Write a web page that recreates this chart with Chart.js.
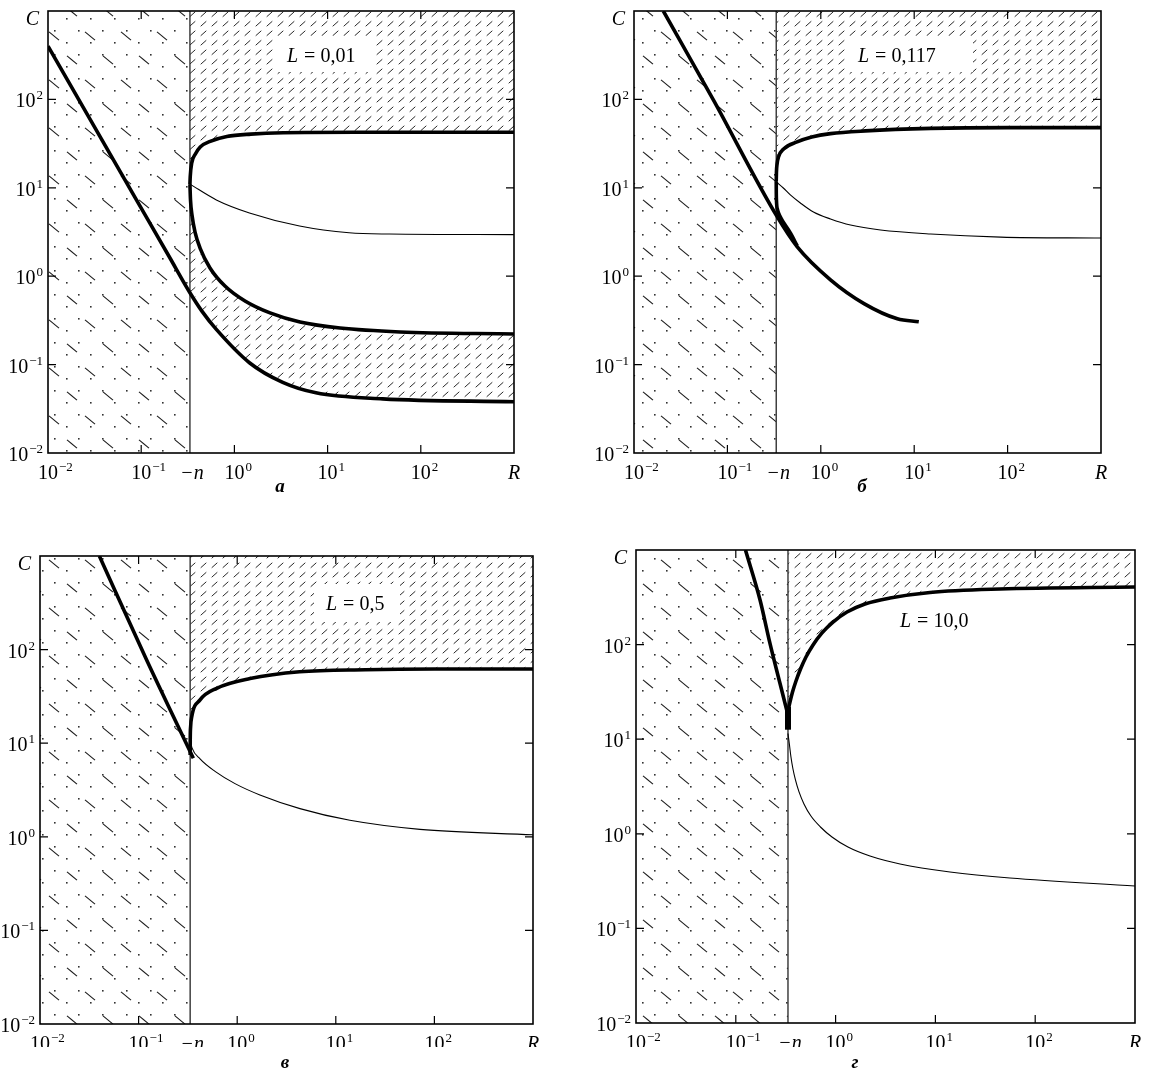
<!DOCTYPE html>
<html>
<head>
<meta charset="utf-8">
<title>C(R)</title>
<script src="https://cdn.jsdelivr.net/npm/chart.js@4/dist/chart.umd.min.js"></script>
<style>
  body { margin: 0; background: #fff; }
  #page { position: relative; width: 1151px; height: 1075px; overflow: hidden; background: #fff; }
  #page canvas { position: absolute; left: 0; top: 0; }
</style>
</head>
<body>
<div id="page">
  <canvas id="chartA" width="1151" height="1075"></canvas>
  <canvas id="chartB" width="1151" height="1075"></canvas>
  <canvas id="chartC" width="1151" height="1075"></canvas>
  <canvas id="chartD" width="1151" height="1075"></canvas>
</div>
<script>
const W = 1151, H = 1075;

// axes
const nR = 1 / 3;
const rMin = 0.01, rMax = 1000, cMin = 0.01, cMax = 1000;
const decadeValues = [0.01, 0.1, 1, 10, 100];
const decadeExps = ['\u22122', '\u22121', '0', '1', '2'];
const tickValues = [0.1, 1, 10, 100];
const lValues = ['0,01', '0,117', '0,5', '10,0'];
const panelLetters = ['а', 'б', 'в', 'г'];

// panel a, L = 0,01
const aLineR = [0.01, 0.087, 0.2, 0.3333, 0.45, 0.64, 1.45, 3.3, 7.5, 39, 1000];
const aLineC = [400, 7.6, 1.66, 0.65, 0.40, 0.25, 0.105, 0.063, 0.048, 0.041, 0.038];
const aUpR = [0.3333, 0.336, 0.348, 0.38, 0.43, 0.55, 0.83, 1.5, 3.35, 20, 1000];
const aUpC = [11, 13.5, 19, 24, 29, 33.5, 38, 40.5, 42, 42.5, 42.5];
const aLowR = [0.3333, 0.338, 0.351, 0.378, 0.428, 0.547, 0.792, 1.3, 2.41, 5.06, 13.6, 59.8, 1000];
const aLowC = [11, 7.3, 4.9, 3.16, 2.08, 1.24, 0.774, 0.524, 0.384, 0.303, 0.259, 0.234, 0.222];
const aThinR = [0.3333, 0.64, 1.45, 5, 17, 46, 1000];
const aThinC = [11, 7.3, 5.2, 3.7, 3.1, 3.0, 2.95];

// panel b, L = 0,117
const bLineR = [0.0206, 0.071, 0.3333, 0.557, 1.27, 2.9, 6.6, 11.2];
const bLineC = [1000, 98, 4.9, 2.16, 0.91, 0.49, 0.33, 0.305];
const bUpR = [0.3333, 0.335, 0.34, 0.353, 0.4, 0.557, 0.8, 1.27, 3, 15, 100, 1000];
const bUpC = [11.7, 15, 18.5, 22.5, 27.5, 33, 37.5, 41, 44, 47, 48, 48];
const bLowR = [0.3333, 0.3336, 0.335, 0.345, 0.368, 0.47, 0.56];
const bLowC = [11.7, 9.5, 7.3, 5.6, 4.7, 3.1, 2.2];
const bThinR = [0.3333, 0.397, 0.472, 0.604, 0.834, 1.27, 2.08, 4.36, 15, 84.5, 1000];
const bThinC = [11.7, 9.95, 8.3, 6.73, 5.32, 4.44, 3.79, 3.33, 3.0, 2.77, 2.7];

// panel c, L = 0,5
const cLineR = [0.04, 0.121, 0.359];
const cLineC = [1000, 77, 6.9];
const cUpR = [0.3333, 0.334, 0.337, 0.346, 0.42, 0.62, 1.35, 4.3, 20, 100, 1000];
const cUpC = [7.5, 11, 15, 19.2, 29, 38.6, 49, 58, 61, 62, 62];
const cThinR = [0.3333, 0.348, 0.42, 0.596, 0.95, 1.7, 4.33, 13.9, 71.4, 1000];
const cThinC = [10.8, 8.9, 6.8, 5.0, 3.7, 2.8, 2.0, 1.5, 1.2, 1.05];

// panel d, L = 10,0
const dLeftR = [0.125, 0.175, 0.22, 0.277, 0.3333];
const dLeftC = [1000, 296, 103, 39, 18];
const dCuspC = [12.6, 22];
const dUpR = [0.3333, 0.349, 0.370, 0.401, 0.445, 0.505, 0.594, 0.731, 0.942, 1.30, 1.97, 3.51, 8.83, 44.4, 1000];
const dUpC = [19.9, 24.7, 31.5, 41.2, 55.2, 73.9, 99.1, 133, 173, 221, 269, 311, 356, 387, 406];
const dThinR = [0.3333, 0.345, 0.357, 0.374, 0.396, 0.430, 0.482, 0.566, 0.705, 0.920, 1.33, 2.21, 4.42, 14.0, 55.8, 1000];
const dThinC = [11.5, 8.69, 6.49, 4.84, 3.71, 2.77, 2.07, 1.54, 1.18, 0.925, 0.724, 0.582, 0.480, 0.395, 0.341, 0.281];

const SERIF = '"Liberation Serif", "DejaVu Serif", serif';

// dotted grid with sparse "\" strokes, left of -n
function dotDashPattern(ctx) {
  const t = document.createElement('canvas');
  t.width = 72; t.height = 48;
  const g = t.getContext('2d');
  g.fillStyle = '#333';
  for (let y = 6; y < 48; y += 12) {
    const off = ((y - 6) / 12) % 2 === 0 ? 6 : 18;
    for (let x = off; x < 72; x += 24) g.fillRect(x, y, 1.6, 1.6);
  }
  g.strokeStyle = '#1a1a1a';
  g.lineWidth = 1.1;
  [[0, 12], [36, 12], [18, 36], [54, 36]].forEach(p => {
    for (const ox of [-72, 0, 72]) {
      for (const oy of [-48, 0, 48]) {
        g.beginPath();
        g.moveTo(p[0] + ox - 5, p[1] + oy - 4.2);
        g.lineTo(p[0] + ox + 5, p[1] + oy + 4.2);
        g.stroke();
      }
    }
  });
  return ctx.createPattern(t, 'repeat');
}

// short "/" strokes for the hatched zones
function slashPattern(ctx) {
  const t = document.createElement('canvas');
  t.width = 11; t.height = 19;
  const g = t.getContext('2d');
  g.strokeStyle = '#2a2a2a';
  g.lineWidth = 1;
  [[5.5, 4.75], [5.5, 14.25]].forEach(p => {
    g.beginPath();
    g.moveTo(p[0] - 2.8, p[1] + 2.5);
    g.lineTo(p[0] + 2.8, p[1] - 2.5);
    g.stroke();
  });
  return ctx.createPattern(t, 'repeat');
}

function pts(rs, cs) {
  return rs.map((r, i) => ({ x: r, y: cs[i] }));
}

function curve(rs, cs, width, extra) {
  return Object.assign({
    data: pts(rs, cs),
    borderColor: '#000',
    borderWidth: width,
    pointRadius: 0,
    fill: false,
    cubicInterpolationMode: 'monotone',
    order: 0
  }, extra || {});
}

function nLine() {
  return {
    data: [{ x: nR, y: cMin }, { x: nR, y: cMax }],
    borderColor: '#333', borderWidth: 1.4, pointRadius: 0, fill: false, order: 2
  };
}

function leftZone(ctx) {
  return {
    data: [{ x: rMin, y: cMax }, { x: nR, y: cMax }],
    borderWidth: 0, pointRadius: 0, fill: 'start',
    backgroundColor: dotDashPattern(ctx), order: 3
  };
}

function powLabel(ctx, exp, x, y, align) {
  ctx.textAlign = 'left';
  ctx.font = '20px ' + SERIF;
  const wb = ctx.measureText('10').width;
  ctx.font = '13px ' + SERIF;
  const we = ctx.measureText(exp).width;
  const x0 = align === 'right' ? x - wb - we - 1 : x - wb / 2;
  ctx.font = '20px ' + SERIF;
  ctx.fillText('10', x0, y);
  ctx.font = '13px ' + SERIF;
  ctx.fillText(exp, x0 + wb + 1, y - 8);
}

const framePlugin = {
  id: 'frame',
  afterDatasetsDraw(chart, args, o) {
    const ctx = chart.ctx, a = chart.chartArea;
    const xs = chart.scales.x, ys = chart.scales.y;
    ctx.save();
    ctx.textBaseline = 'alphabetic';

    if (o.lblBox) {
      ctx.fillStyle = '#fff';
      ctx.fillRect(o.lblBox[0], o.lblBox[1], o.lblBox[2], o.lblBox[3]);
    }
    ctx.fillStyle = '#000';
    ctx.textAlign = 'left';
    ctx.font = 'italic 20px ' + SERIF;
    ctx.fillText('L', o.lbl[0], o.lbl[1]);
    const wL = ctx.measureText('L').width;
    ctx.font = '20px ' + SERIF;
    ctx.fillText('= ' + o.lValue, o.lbl[0] + wL + 6, o.lbl[1]);

    ctx.strokeStyle = '#000';
    ctx.lineWidth = 1.6;
    ctx.strokeRect(a.left, a.top, a.right - a.left, a.bottom - a.top);
    ctx.lineWidth = 1.2;
    ctx.beginPath();
    tickValues.forEach(v => {
      const px = xs.getPixelForValue(v), py = ys.getPixelForValue(v);
      ctx.moveTo(px, a.bottom); ctx.lineTo(px, a.bottom - 8);
      ctx.moveTo(px, a.top); ctx.lineTo(px, a.top + 8);
      ctx.moveTo(a.left, py); ctx.lineTo(a.left + 8, py);
      ctx.moveTo(a.right, py); ctx.lineTo(a.right - 8, py);
    });
    ctx.stroke();

    decadeValues.forEach((v, i) => powLabel(ctx, decadeExps[i], a.left - 5, ys.getPixelForValue(v) + 8, 'right'));
    ctx.font = 'italic 20px ' + SERIF;
    ctx.textAlign = 'right';
    ctx.fillText('C', a.left - 9, a.top + 14);

    ctx.save();
    if (o.clipY) {
      ctx.beginPath();
      ctx.rect(0, 0, W, o.clipY);
      ctx.clip();
    }
    const by = a.bottom + 26;
    decadeValues.forEach((v, i) => powLabel(ctx, decadeExps[i], xs.getPixelForValue(v), by, 'center'));
    ctx.font = 'italic 20px ' + SERIF;
    ctx.textAlign = 'center';
    ctx.fillText('\u2212n', xs.getPixelForValue(nR) + 2, by);
    ctx.fillText('R', a.right, by);
    ctx.restore();

    ctx.font = 'bold italic 19px ' + SERIF;
    ctx.textAlign = 'center';
    ctx.fillText(o.letter, o.letterPos[0], o.letterPos[1]);
    ctx.restore();
  }
};

function makePanel(id, box, frameOpts, buildSets) {
  const canvas = document.getElementById(id);
  const ctx = canvas.getContext('2d');
  new Chart(canvas, {
    type: 'line',
    data: { datasets: buildSets(ctx) },
    options: {
      responsive: false,
      animation: false,
      devicePixelRatio: 1,
      events: [],
      layout: { padding: { left: box[0], top: box[1], right: W - box[2], bottom: H - box[3] } },
      scales: {
        x: { type: 'logarithmic', min: rMin, max: rMax, display: false },
        y: { type: 'logarithmic', min: cMin, max: cMax, display: false }
      },
      plugins: {
        legend: { display: false },
        tooltip: { enabled: false },
        filler: { drawTime: 'beforeDatasetsDraw' },
        frame: frameOpts
      }
    },
    plugins: [framePlugin]
  });
}

makePanel('chartA', [48, 11, 514, 453],
  { lbl: [287, 62], lblBox: [276, 36, 100, 36], lValue: lValues[0], letter: panelLetters[0], letterPos: [280, 492] },
  ctx => {
    const slash = slashPattern(ctx);
    return [
      curve(aLineR, aLineC, 3.6),
      curve(aUpR, aUpC, 3.6, { fill: 'end', backgroundColor: slash }),
      curve(aLowR, aLowC, 3.6, { fill: '-2', backgroundColor: slash }),
      curve(aThinR, aThinC, 1.1, { order: 1 }),
      nLine(),
      leftZone(ctx)
    ];
  });

makePanel('chartB', [634, 11, 1101, 453],
  { lbl: [858, 62], lblBox: [846, 36, 127, 36], lValue: lValues[1], letter: panelLetters[1], letterPos: [862, 492] },
  ctx => {
    const slash = slashPattern(ctx);
    return [
      curve(bLineR, bLineC, 3.6),
      curve(bUpR, bUpC, 3.6, { fill: 'end', backgroundColor: slash }),
      curve(bLowR, bLowC, 3.6),
      curve(bThinR, bThinC, 1.1, { order: 1 }),
      nLine(),
      leftZone(ctx)
    ];
  });

makePanel('chartC', [40, 556, 533, 1024],
  { lbl: [326, 610], lblBox: [314, 584, 86, 38], lValue: lValues[2], letter: panelLetters[2], letterPos: [285, 1068], clipY: 1047 },
  ctx => {
    const slash = slashPattern(ctx);
    return [
      curve(cLineR, cLineC, 3.6),
      curve(cUpR, cUpC, 3.6, { fill: 'end', backgroundColor: slash }),
      curve(cThinR, cThinC, 1.1, { order: 1 }),
      nLine(),
      leftZone(ctx)
    ];
  });

makePanel('chartD', [636, 550, 1135, 1023],
  { lbl: [900, 627], lValue: lValues[3], letter: panelLetters[3], letterPos: [855, 1068], clipY: 1047 },
  ctx => {
    const slash = slashPattern(ctx);
    return [
      curve(dLeftR, dLeftC, 3.6),
      curve(dUpR, dUpC, 3.6, { fill: 'end', backgroundColor: slash }),
      curve(dThinR, dThinC, 1.1, { order: 1 }),
      { data: pts([nR, nR], dCuspC), borderColor: '#000', borderWidth: 6, pointRadius: 0, fill: false, order: 0 },
      nLine(),
      leftZone(ctx)
    ];
  });
</script>
</body>
</html>
